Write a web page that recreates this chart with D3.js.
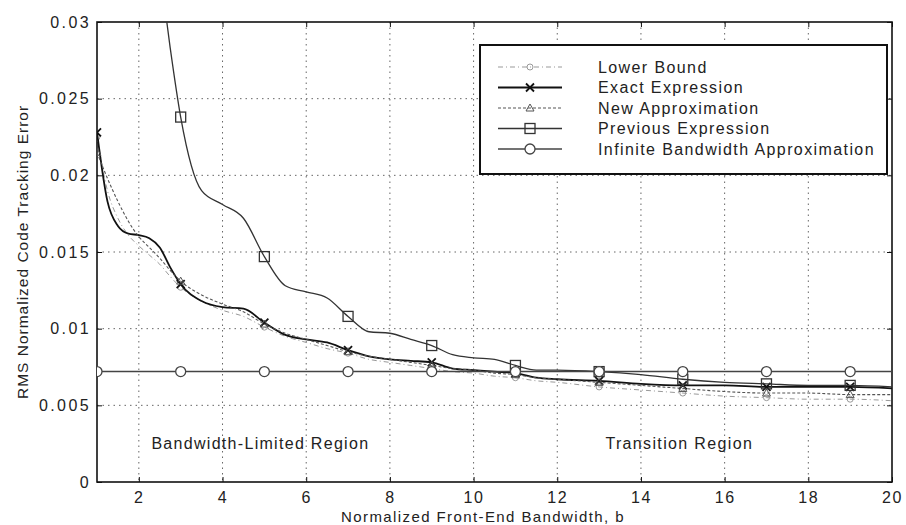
<!DOCTYPE html>
<html lang="en">
<head>
<meta charset="UTF-8">
<title>RMS Normalized Code Tracking Error</title>
<style>
  body { margin: 0; background: #fff; }
  svg { display: block; font-family: "Liberation Sans", Arial, sans-serif; }
  .tick text { fill: #222; font-size: 16px; letter-spacing: 1.6px; }
  .domain { display: none; }
</style>
</head>
<body>
<svg id="chart" width="906" height="525"></svg>
<script src="https://d3js.org/d3.v7.min.js"></script>
<script>
// bandwidth samples (b)
const bValues = [1, 1.25, 1.5, 1.75, 2, 2.25, 2.5, 2.75, 3, 3.5, 4, 4.5, 5, 5.5, 6, 6.5, 7, 7.5,
  8, 8.5, 9, 9.5, 10, 10.5, 11, 11.5, 12, 13, 14, 15, 16, 17, 18, 19, 20];

const lowerBound = [0.0225, 0.0190, 0.0172, 0.0161, 0.0154, 0.0148, 0.0142, 0.0134, 0.0127, 0.0118,
  0.0112, 0.0108, 0.0101, 0.0095, 0.0091, 0.0087, 0.0084, 0.0080, 0.0078, 0.0076, 0.0074, 0.0072,
  0.0071, 0.0069, 0.0068, 0.0066, 0.0065, 0.0062, 0.0060, 0.0058, 0.0056, 0.0055, 0.0054, 0.0054, 0.0053];

const exactExpr = [0.0228, 0.0183, 0.0167, 0.0162, 0.0161, 0.0159, 0.0153, 0.0140, 0.0129, 0.0118,
  0.0114, 0.0113, 0.0104, 0.0096, 0.0093, 0.0091, 0.0086, 0.0082, 0.0080, 0.0079, 0.0078, 0.0074,
  0.0073, 0.0072, 0.0071, 0.0068, 0.0067, 0.0066, 0.0064, 0.0063, 0.0063, 0.0062, 0.0062, 0.0062, 0.0061];

const newApprox = [0.0215, 0.0198, 0.0183, 0.0170, 0.0160, 0.0153, 0.0146, 0.0138, 0.0131, 0.0122,
  0.0116, 0.0111, 0.0103, 0.0097, 0.0093, 0.0089, 0.0085, 0.0082, 0.0080, 0.0078, 0.0076, 0.0074,
  0.0073, 0.0071, 0.0070, 0.0068, 0.0067, 0.0065, 0.0063, 0.0061, 0.0059, 0.0058, 0.0058, 0.0057, 0.0057];

const prevExpr = [null, null, null, null, null, null, 0.0335, 0.0283, 0.0238, 0.0190,
  0.0181, 0.0172, 0.0147, 0.0128, 0.0124, 0.0120, 0.0108, 0.0098, 0.0097, 0.0093, 0.0089, 0.0083,
  0.0081, 0.0080, 0.0076, 0.0073, 0.0073, 0.0072, 0.0070, 0.0067, 0.0065, 0.0064, 0.0063, 0.0063, 0.0062];

const infiniteBW = [0.0072, 0.0072, 0.0072, 0.0072, 0.0072, 0.0072, 0.0072, 0.0072, 0.0072, 0.0072,
  0.0072, 0.0072, 0.0072, 0.0072, 0.0072, 0.0072, 0.0072, 0.0072, 0.0072, 0.0072, 0.0072, 0.0072,
  0.0072, 0.0072, 0.0072, 0.0072, 0.0072, 0.0072, 0.0072, 0.0072, 0.0072, 0.0072, 0.0072, 0.0072, 0.0072];

const markerB = [1, 3, 5, 7, 9, 11, 13, 15, 17, 19];
const seriesNames = ["Lower Bound", "Exact Expression", "New Approximation", "Previous Expression",
  "Infinite Bandwidth Approximation"];

const xTicks = [2, 4, 6, 8, 10, 12, 14, 16, 18, 20];
const yTicks = [0, 0.005, 0.01, 0.015, 0.02, 0.025, 0.03];
const yTickLabels = ["0", "0.005", "0.01", "0.015", "0.02", "0.025", "0.03"];

const series = [
  { name: seriesNames[0], values: lowerBound, color: "#999", width: 1, dash: "5,3,1,3", marker: "circleSmall" },
  { name: seriesNames[1], values: exactExpr, color: "#111", width: 1.8, dash: null, marker: "cross" },
  { name: seriesNames[2], values: newApprox, color: "#555", width: 1.1, dash: "3,2", marker: "triangle" },
  { name: seriesNames[3], values: prevExpr, color: "#333", width: 1.3, dash: null, marker: "square" },
  { name: seriesNames[4], values: infiniteBW, color: "#444", width: 1.5, dash: null, marker: "circle" }
];

const svg = d3.select("#chart");
const pLeft = 97, pRight = 892, pTop = 22, pBottom = 482;

const x = d3.scaleLinear().domain([1, 20]).range([pLeft, pRight]);
const y = d3.scaleLinear().domain([0, 0.03]).range([pBottom, pTop]);

svg.append("defs").append("clipPath").attr("id", "plotClip")
  .append("rect").attr("x", pLeft).attr("y", pTop).attr("width", pRight - pLeft).attr("height", pBottom - pTop);

// grid
const grid = svg.append("g").attr("stroke", "#666").attr("stroke-width", 1).attr("stroke-dasharray", "1.5,4");
grid.selectAll(".gx").data(xTicks.filter(t => t < 20)).enter().append("line")
  .attr("x1", d => x(d)).attr("x2", d => x(d)).attr("y1", pTop).attr("y2", pBottom);
grid.selectAll(".gy").data(yTicks.filter(t => t > 0 && t < 0.03)).enter().append("line")
  .attr("x1", pLeft).attr("x2", pRight).attr("y1", d => y(d)).attr("y2", d => y(d));

// axes
svg.append("g").attr("transform", `translate(0,${pBottom})`)
  .call(d3.axisBottom(x).tickValues(xTicks).tickSize(-5).tickPadding(10).tickFormat(d3.format("d")))
  .call(g => g.selectAll(".tick line").attr("stroke", "#111"));
svg.append("g").attr("transform", `translate(${pLeft},0)`)
  .call(d3.axisLeft(y).tickValues(yTicks).tickSize(-5).tickPadding(6).tickFormat((d, i) => yTickLabels[i]))
  .call(g => g.selectAll(".tick line").attr("stroke", "#111"))
  .call(g => g.selectAll(".tick text").style("letter-spacing", "2.4px"));
svg.append("g").attr("transform", `translate(0,${pTop})`)
  .call(d3.axisTop(x).tickValues(xTicks).tickSize(-5).tickFormat(""))
  .call(g => g.selectAll(".tick line").attr("stroke", "#111"));
svg.append("g").attr("transform", `translate(${pRight},0)`)
  .call(d3.axisRight(y).tickValues(yTicks).tickSize(-5).tickFormat(""))
  .call(g => g.selectAll(".tick line").attr("stroke", "#111"));

svg.append("rect").attr("x", pLeft).attr("y", pTop).attr("width", pRight - pLeft).attr("height", pBottom - pTop)
  .attr("fill", "none").attr("stroke", "#111").attr("stroke-width", 1.6);

// markers
function drawMarker(g, type, cx, cy, color) {
  if (type === "circle") {
    g.append("circle").attr("cx", cx).attr("cy", cy).attr("r", 5)
      .attr("fill", "#fff").attr("stroke", color).attr("stroke-width", 1.3);
  } else if (type === "circleSmall") {
    g.append("circle").attr("cx", cx).attr("cy", cy).attr("r", 3)
      .attr("fill", "none").attr("stroke", color).attr("stroke-width", 1);
  } else if (type === "square") {
    g.append("rect").attr("x", cx - 5).attr("y", cy - 5).attr("width", 10).attr("height", 10)
      .attr("fill", "none").attr("stroke", color).attr("stroke-width", 1.3);
  } else if (type === "triangle") {
    g.append("path").attr("d", `M${cx},${cy - 4}L${cx + 4},${cy + 3}L${cx - 4},${cy + 3}Z`)
      .attr("fill", "none").attr("stroke", color).attr("stroke-width", 1);
  } else if (type === "cross") {
    g.append("path").attr("d", `M${cx - 4},${cy - 4}L${cx + 4},${cy + 4}M${cx - 4},${cy + 4}L${cx + 4},${cy - 4}`)
      .attr("stroke", color).attr("stroke-width", 1.8);
  }
}

const line = d3.line().defined(d => d[1] != null).curve(d3.curveMonotoneX)
  .x(d => x(d[0])).y(d => y(d[1]));
const plot = svg.append("g").attr("clip-path", "url(#plotClip)");

series.forEach(s => {
  const pts = bValues.map((b, i) => [b, s.values[i]]);
  plot.append("path").datum(pts).attr("d", line).attr("fill", "none")
    .attr("stroke", s.color).attr("stroke-width", s.width)
    .attr("stroke-dasharray", s.dash);
  const mg = plot.append("g");
  markerB.forEach(b => {
    const i = bValues.indexOf(b);
    const v = s.values[i];
    if (v != null && v <= 0.03) drawMarker(mg, s.marker, x(b), y(v), s.color);
  });
});

// region labels
svg.append("text").attr("x", x(2.3)).attr("y", 449).attr("font-size", 16).attr("fill", "#222")
  .style("letter-spacing", "1.3px").text("Bandwidth-Limited Region");
svg.append("text").attr("x", x(13.15)).attr("y", 449).attr("font-size", 16).attr("fill", "#222")
  .style("letter-spacing", "1.35px").text("Transition Region");

// axis labels
svg.append("text").attr("x", 483).attr("y", 522).attr("text-anchor", "middle")
  .attr("font-size", 15).attr("fill", "#222").style("letter-spacing", "1.4px")
  .text("Normalized Front-End Bandwidth, b");
svg.append("text").attr("transform", `translate(23,${(pTop + pBottom) / 2}) rotate(-90)`)
  .attr("text-anchor", "middle").attr("dy", "0.35em")
  .attr("font-size", 15.5).attr("fill", "#222").style("letter-spacing", "1px")
  .text("RMS Normalized Code Tracking Error");

// legend
const lg = svg.append("g");
lg.append("rect").attr("x", 480).attr("y", 45).attr("width", 407).attr("height", 129)
  .attr("fill", "#fff").attr("stroke", "#111").attr("stroke-width", 2);
series.forEach((s, i) => {
  const ly = 67 + i * 20.5;
  lg.append("line").attr("x1", 498).attr("x2", 562).attr("y1", ly).attr("y2", ly)
    .attr("stroke", s.color).attr("stroke-width", s.width).attr("stroke-dasharray", s.dash);
  drawMarker(lg, s.marker, 530, ly, s.color);
  lg.append("text").attr("x", 598).attr("y", ly).attr("dy", "0.35em")
    .attr("font-size", 16).attr("fill", "#222").style("letter-spacing", "1.4px").text(s.name);
});
</script>
</body>
</html>
